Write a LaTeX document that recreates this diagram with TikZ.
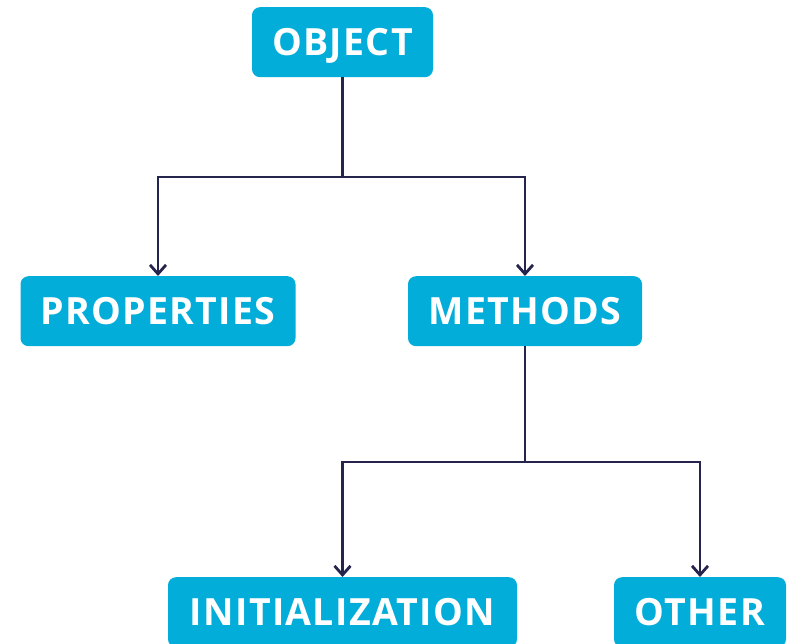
\documentclass[tikz,border=0pt]{standalone}
\usepackage{fontspec}
\setmainfont{Open Sans}
\newfontfamily\boxfont[LetterSpace=3.5]{Open Sans}
\usetikzlibrary{arrows.meta}
\definecolor{boxcyan}{HTML}{02ADD9}
\definecolor{linenavy}{HTML}{24244C}
\begin{document}
\begin{tikzpicture}[x=1pt,y=-1pt,
  box/.style={fill=boxcyan, rounded corners=8pt, text=white, font=\boxfont\fontsize{37.5}{40}\selectfont\bfseries,
    inner sep=0pt, text height=26.5pt, text depth=0pt, minimum height=70pt, anchor=north},
  conn/.style={draw=linenavy, line width=2.8pt, -{Straight Barb[length=9pt,width=16pt,line width=2.8pt]}}
]
\useasboundingbox (0,0) rectangle (790,644);
\node[box, minimum width=181pt] (obj) at (342.5,7) {OBJECT};
\node[box, minimum width=275pt] (prop) at (158,276) {PROPERTIES};
\node[box, minimum width=234pt] (meth) at (525,276) {METHODS};
\node[box, minimum width=349pt] (init) at (342.5,577) {INITIALIZATION};
\node[box, minimum width=172pt] (other) at (700,577) {OTHER};
\coordinate (j1) at (342.5,177);
\coordinate (j2) at (525,462);
\draw[conn] (obj.south) -- (j1) -| (prop.north);
\draw[conn] (j1) -| (meth.north);
\draw[conn] (meth.south) -- (j2) -| (init.north);
\draw[conn] (j2) -| (other.north);
\end{tikzpicture}
\end{document}
